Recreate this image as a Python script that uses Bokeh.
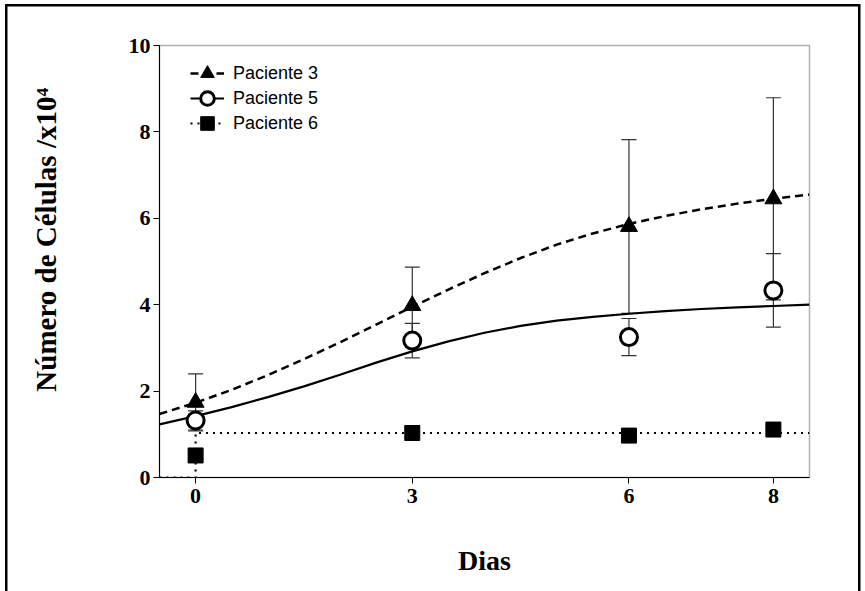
from bokeh.plotting import figure
from bokeh.models import (ColumnDataSource, Legend, LegendItem, Whisker, TeeHead,
                          FixedTicker)
from bokeh.embed import file_html
from bokeh.resources import INLINE

# ---- data ----
dias = [0, 3, 6, 8]
p3_mean = [1.74, 3.98, 5.81, 6.45]
p3_err = [0.66, 0.89, 2.01, 2.34]
p5_mean = [1.32, 3.17, 3.25, 4.33]
p5_err = [0.22, 0.40, 0.43, 0.85]
p6_mean = [0.51, 1.03, 0.97, 1.11]

# fitted curves
fit_x = [-0.5, 0, 0.5, 1, 1.5, 2, 2.5, 3, 3.5, 4, 4.5, 5, 5.5, 6, 6.5, 7, 7.5, 8, 8.5]
fit_p3 = [1.47, 1.73, 2.03, 2.37, 2.74, 3.13, 3.54, 3.95, 4.35, 4.73, 5.08, 5.39,
          5.65, 5.87, 6.05, 6.21, 6.34, 6.45, 6.55]
fit_p5 = [1.23, 1.42, 1.63, 1.86, 2.11, 2.38, 2.66, 2.92, 3.15, 3.35, 3.51, 3.63,
          3.72, 3.79, 3.85, 3.9, 3.94, 3.97, 4.0]
fit6_x = [-0.5, 0, 0, 8.5]
fit_p6 = [0.0, 0.0, 1.03, 1.03]

x_ticks = [0, 3, 6, 8]
y_ticks = [0, 2, 4, 6, 8, 10]
labels = ["Paciente 3", "Paciente 5", "Paciente 6"]

p = figure(width=865, height=591, x_range=(-0.5, 8.5), y_range=(0, 10),
           output_backend="svg", toolbar_location=None,
           min_border_left=159, min_border_right=56, min_border_top=45,
           min_border_bottom=114)
p.grid.visible = False
p.outline_line_color = "#b0b0b0"
p.outline_line_width = 1.5
p.background_fill_color = "white"
p.border_fill_color = None
p.styles = {
    "background-color": "white",
    "background-image": ("linear-gradient(#000,#000), linear-gradient(#000,#000), "
                         "linear-gradient(#000,#000)"),
    "background-size": "2.5px 100%, 855px 2.5px, 2.5px 100%",
    "background-position": "5px 4px, 5px 4px, 858px 4px",
    "background-repeat": "no-repeat",
}

serif = "Liberation Serif"
for ax in (p.xaxis[0], p.yaxis[0]):
    ax.major_label_text_font = serif
    ax.major_label_text_font_style = "bold"
    ax.major_label_text_font_size = "22px"
    ax.major_label_text_color = "black"
    ax.axis_label_text_font = serif
    ax.axis_label_text_font_style = "bold"
    ax.axis_label_text_color = "black"
    ax.minor_tick_line_color = None
    ax.major_tick_in = 0
    ax.major_tick_out = 6
    ax.axis_line_color = "black"
    ax.major_tick_line_color = "black"

p.xaxis.ticker = FixedTicker(ticks=x_ticks)
p.yaxis.ticker = FixedTicker(ticks=y_ticks)
p.xaxis.axis_label = "Dias"
p.xaxis.axis_label_text_font_size = "28px"
p.xaxis.major_label_standoff = 5
p.xaxis.axis_label_standoff = 39
p.yaxis.axis_label = "\u00a0" * 6 + "Número de Células /x10⁴"
p.yaxis.axis_label_text_font_size = "29px"
p.yaxis.major_label_standoff = 3
p.yaxis.axis_label_standoff = 64

# error bars
s3 = ColumnDataSource(dict(x=dias, y=p3_mean,
                           up=[m + e for m, e in zip(p3_mean, p3_err)],
                           lo=[m - e for m, e in zip(p3_mean, p3_err)]))
s5 = ColumnDataSource(dict(x=dias, y=p5_mean,
                           up=[m + e for m, e in zip(p5_mean, p5_err)],
                           lo=[m - e for m, e in zip(p5_mean, p5_err)]))
s6 = ColumnDataSource(dict(x=dias, y=p6_mean))
for s in (s3, s5):
    w = Whisker(source=s, base="x", upper="up", lower="lo", level="underlay",
                line_color="#333333", line_width=1.2,
                upper_head=TeeHead(size=15, line_color="#333333", line_width=1.2),
                lower_head=TeeHead(size=15, line_color="#333333", line_width=1.2))
    p.add_layout(w)

# curves
l3 = p.line(fit_x, fit_p3, line_color="black", line_width=2.5, line_dash="8 5")
l5 = p.line(fit_x, fit_p5, line_color="black", line_width=2.2)
l6 = p.line(fit6_x, fit_p6, line_color="black", line_width=2.2, line_dash="2 5")

# markers
m3 = p.scatter("x", "y", source=s3, marker="triangle", size=17,
               fill_color="black", line_color="black")
m5 = p.scatter("x", "y", source=s5, marker="circle", size=17,
               fill_color="white", line_color="black", line_width=3)
m6 = p.scatter("x", "y", source=s6, marker="square", size=15,
               fill_color="black", line_color="black")

# one legend per entry so rows can sit closer than the glyph box
entries = [(labels[0], [l3, m3]), (labels[1], [l5, m5]), (labels[2], [l6, m6])]
for i, (lab, rends) in enumerate(entries):
    lg = Legend(items=[LegendItem(label=lab, renderers=rends)],
                location=(31, 387 - 25 * i), border_line_color=None,
                background_fill_alpha=0, padding=0, margin=0,
                glyph_width=34, glyph_height=34, spacing=0, label_standoff=9,
                label_text_font="Liberation Sans", label_text_font_size="18px",
                label_text_color="black", label_height=25)
    p.add_layout(lg)

open("out.html", "w").write(file_html(p, INLINE))
